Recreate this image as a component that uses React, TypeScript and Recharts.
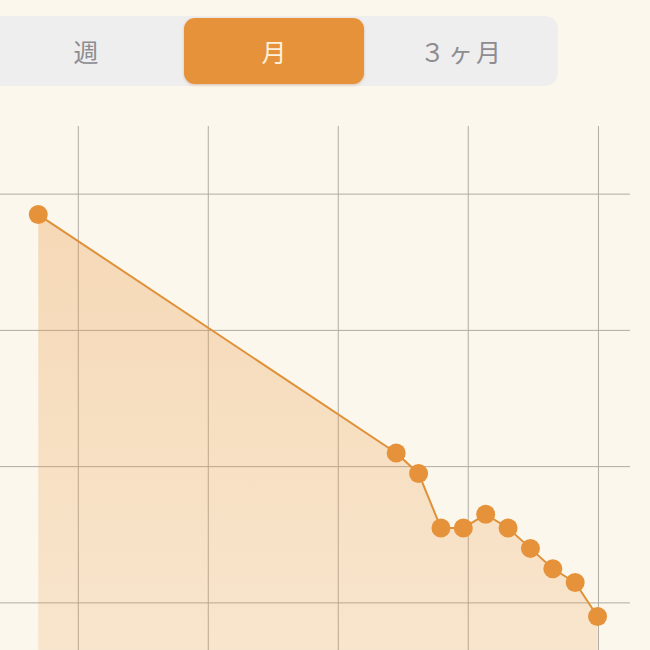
import React from 'react';
import { AreaChart, Area, XAxis, YAxis, CartesianGrid } from 'recharts';

// days since the first entry
const days = [0, 16, 17, 18, 19, 20, 21, 22, 23, 24, 25];
// weight (kg)
const weights = [66.85, 65.1, 64.95, 64.55, 64.55, 64.65, 64.55, 64.4, 64.25, 64.15, 63.9];
const xGrid = [1.79, 7.6, 13.41, 19.22, 25.04];
const yGrid = [64, 65, 66, 67];
const periods = ['週', '月', '３ヶ月'];
const selectedPeriod = '月';

const data = days.map((d, i) => ({ day: d, weight: weights[i] }));

const ORANGE = '#e6923a';
const BG = '#fcf7ec';

const segLeft = [-8, 184, 368];

const NoTick = () => <g />;

const App: React.FC = () => (
    <div style={{ position: 'fixed', top: 0, left: 0, width: 650, height: 650, overflow: 'hidden', background: BG, fontFamily: '"Noto Sans CJK JP", "Noto Sans", sans-serif' }}>
        <div style={{ position: 'absolute', left: -20, top: 16, width: 578, height: 70, background: '#efeeef', borderRadius: 13 }} />
        {periods.map((p, i) => {
            const active = p === selectedPeriod;
            return (
                <div
                    key={p}
                    style={{
                        position: 'absolute',
                        left: segLeft[i],
                        top: 18,
                        width: i === 1 ? 180 : 188,
                        height: 66,
                        borderRadius: 11,
                        background: active ? ORANGE : 'transparent',
                        boxShadow: active ? '0 1px 3px rgba(180,110,40,0.35)' : 'none',
                        color: active ? '#fdf1dc' : '#8d8c91',
                        fontSize: 25,
                        display: 'flex',
                        alignItems: 'center',
                        justifyContent: 'center',
                        letterSpacing: i === 2 ? 3 : 0,
                    }}
                >
                    {p}
                </div>
            );
        })}
        <div style={{ position: 'absolute', left: 0, top: 126 }}>
            <AreaChart width={630} height={545} data={data} margin={{ top: 0, right: 0, left: 0, bottom: 0 }}>
                <defs>
                    <linearGradient id="weightFill" x1="0" y1="0" x2="0" y2="1">
                        <stop offset="0%" stopColor={ORANGE} stopOpacity={0.3} />
                        <stop offset="100%" stopColor={ORANGE} stopOpacity={0.17} />
                    </linearGradient>
                </defs>
                <CartesianGrid stroke="#b1aca3" strokeWidth={1} syncWithTicks />
                <XAxis dataKey="day" type="number" domain={[-1.71, 26.45]} ticks={xGrid} interval={0} height={0} axisLine={false} tickLine={false} tick={NoTick} allowDataOverflow />
                <YAxis type="number" domain={[63.5, 67.5]} ticks={yGrid} interval={0} width={0} axisLine={false} tickLine={false} tick={NoTick} allowDataOverflow />
                <Area
                    type="linear"
                    dataKey="weight"
                    stroke="#df9139"
                    strokeWidth={2}
                    fill="url(#weightFill)"
                    fillOpacity={1}
                    dot={{ r: 9.5, fill: ORANGE, stroke: 'none', fillOpacity: 1 }}
                    activeDot={false}
                    isAnimationActive={false}
                />
            </AreaChart>
        </div>
    </div>
);

export default App;
